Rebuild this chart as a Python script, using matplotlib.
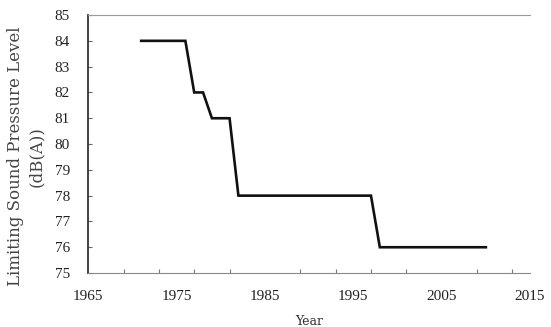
import matplotlib
matplotlib.use("Agg")
import matplotlib.pyplot as plt
from matplotlib.ticker import FixedLocator

# Limiting sound pressure level over time (step-wise reductions)
years = [1971, 1976, 1977, 1978, 1979, 1981, 1982, 1997, 1998, 2010]
levels = [84, 84, 82, 82, 81, 81, 78, 78, 76, 76]

x_tick_labels = [1965, 1975, 1985, 1995, 2005, 2015]
y_tick_labels = [75, 76, 77, 78, 79, 80, 81, 82, 83, 84, 85]
x_minor = [1969, 1973, 1977, 1981, 1985, 1989, 1993, 1997, 2001, 2005, 2009, 2013]

fig = plt.figure(figsize=(5.51, 3.27), dpi=100)
ax = fig.add_axes([0.160, 0.165, 0.802, 0.789])

ax.plot(years, levels, color="#111111", linewidth=1.9, solid_joinstyle="miter")

ax.set_xlim(1965, 2015)
ax.set_ylim(75, 85)
ax.set_xticks(x_tick_labels)
ax.set_yticks(y_tick_labels)
ax.xaxis.set_minor_locator(FixedLocator(x_minor))

tick_font = {"family": "Liberation Serif", "size": 11}
ax.set_xticklabels([str(v) for v in x_tick_labels], fontdict=tick_font)
ax.set_yticklabels([str(v) for v in y_tick_labels], fontdict=tick_font)

ax.tick_params(axis="x", which="major", length=0, pad=12, colors="#222222")
ax.tick_params(axis="x", which="minor", direction="in", length=3, width=0.8, color="#777777")
ax.tick_params(axis="y", which="major", direction="in", length=3, width=0.8,
               color="#666666", pad=13, labelcolor="#222222")

ax.spines["right"].set_visible(False)
ax.spines["top"].set_color("#999999")
ax.spines["top"].set_linewidth(0.8)
ax.spines["bottom"].set_color("#888888")
ax.spines["bottom"].set_linewidth(0.8)
ax.spines["left"].set_color("#333333")
ax.spines["left"].set_linewidth(1.3)

ax.set_xlabel("Year", fontdict={"family": "DejaVu Serif", "size": 9}, color="#333333", labelpad=9)
ax.set_ylabel("Limiting Sound Pressure Level\n(dB(A))",
              fontdict={"family": "DejaVu Serif", "size": 12},
              color="#444444", linespacing=1.35)
ax.yaxis.set_label_coords(-0.097, 0.453)

fig.savefig("out.png", dpi=100)
